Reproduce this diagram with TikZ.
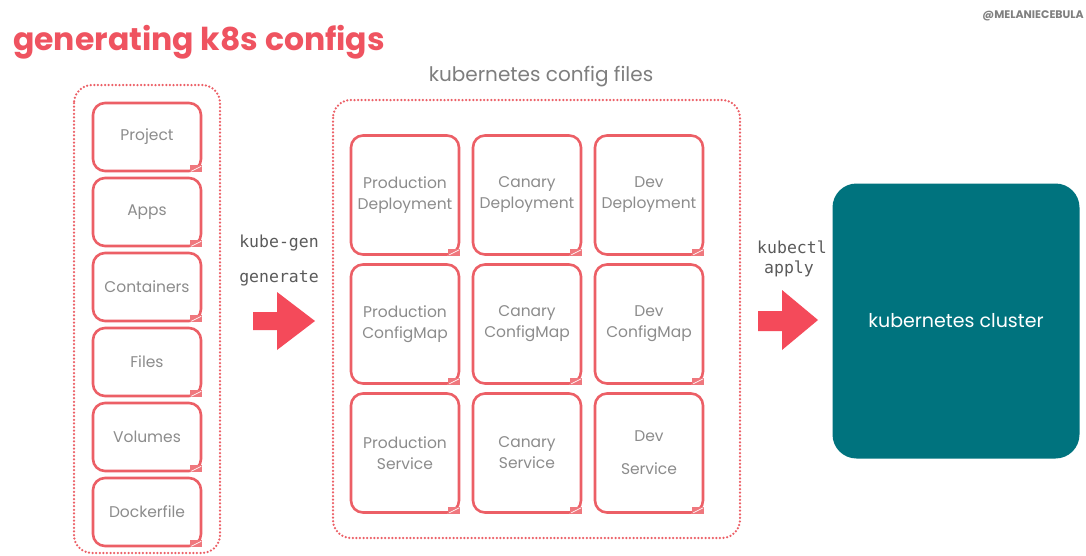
\documentclass[tikz,border=0pt]{standalone}
\usepackage{fontspec}
\setmainfont{Poppins}
\newfontfamily\monofont{DejaVu Sans Mono}
\definecolor{kred}{HTML}{EC5F66}
\definecolor{karrow}{HTML}{F44A5A}
\definecolor{ktitle}{HTML}{EF5360}
\definecolor{kteal}{HTML}{00737E}
\definecolor{ktext}{HTML}{8C8C8C}
\definecolor{kmono}{HTML}{5A5A5A}
\tikzset{
  file/.style={draw=kred, line width=2.6pt, rounded corners=12pt, fill=white,
    text=ktext, align=center, inner sep=0pt, font=\fontsize{15.5}{21}\selectfont},
  small/.style={file, minimum width=108pt, minimum height=68pt},
  big/.style={file, minimum width=108pt, minimum height=119pt},
  group/.style={draw=kred, line width=2.5pt, dash pattern=on 0pt off 3.6pt,
    line cap=round, rounded corners=18pt},
  cmd/.style={text=kmono, font=\monofont\fontsize{16.5}{18}\selectfont}
}
\begin{document}
\begin{tikzpicture}[x=1pt, y=-1pt]
\useasboundingbox (0,0) rectangle (1086,555);
\fill[white] (0,0) rectangle (1086,555);

% title
\node[anchor=base west, inner sep=0pt, text=ktitle, font=\fontsize{31.5}{34}\selectfont\bfseries]
  (title) at (13,50) {generating k8s configs};
\node[anchor=base east, inner sep=0pt, text=gray, font=\fontsize{11}{13}\selectfont\bfseries]
  (handle) at (1084,18) {@MELANIECEBULA};

% dotted groups
\draw[group] (74,85) rectangle (220,553);
\draw[group] (333,100) rectangle (740,538);
\node[text=ktext!90!black, font=\fontsize{20}{24}\selectfont] (cfglabel) at (541,77) {kubernetes config files};

% inputs
\foreach \name/\txt [count=\i] in {prj/Project, apps/Apps, ctr/Containers, files/Files, vols/Volumes, dockf/Dockerfile}
  \node[small] (\name) at (147,{62+75*\i}) {\txt};

% config files
\foreach \name/\txt/\x/\y in {
  pdep/{Production\\Deployment}/405/195, cdep/{Canary\\Deployment}/527/195, ddep/{Dev\\Deployment}/649/195,
  pcm/{Production\\ConfigMap}/405/324, ccm/{Canary\\ConfigMap}/527/324, dcm/{Dev\\ConfigMap}/649/324,
  psvc/{Production\\Service}/405/453, csvc/{Canary\\Service}/527/453, dsvc/{Dev\\[12pt]Service}/649/453}
  \node[big] (\name) at (\x,\y) {\txt};

% dog ears
\foreach \n in {prj,apps,ctr,files,vols,dockf,pdep,cdep,ddep,pcm,ccm,dcm,psvc,csvc,dsvc}{
  \fill[kred!85] ([shift={(-12pt,0pt)}]\n.south east) rectangle ([shift={(0pt,7pt)}]\n.south east);
  \draw[white, line width=0.7pt] ([shift={(-11pt,1pt)}]\n.south east) -- ([shift={(-1pt,6pt)}]\n.south east);
}

% kube-gen arrow
\node[cmd] (kgen) at (279,243) {kube-gen};
\node[cmd] (gen) at (279,278) {generate};
\fill[karrow] (253,312) -- (277,312) -- (277,292) -- (315,321) -- (277,350) -- (277,330) -- (253,330) -- cycle;

% kubectl arrow
\node[cmd] (kctl) at (792,247) {kubectl};
\node[cmd] (apply) at (789,269) {apply};
\fill[karrow] (758,311) -- (782,311) -- (782,290) -- (818,320) -- (782,350) -- (782,331) -- (758,331) -- cycle;

% cluster
\node[fill=kteal, rounded corners=24pt, minimum width=247pt, minimum height=275pt,
  text=white, font=\fontsize{19}{23}\selectfont] (cluster) at (956,321) {kubernetes cluster};
\end{tikzpicture}
\end{document}
